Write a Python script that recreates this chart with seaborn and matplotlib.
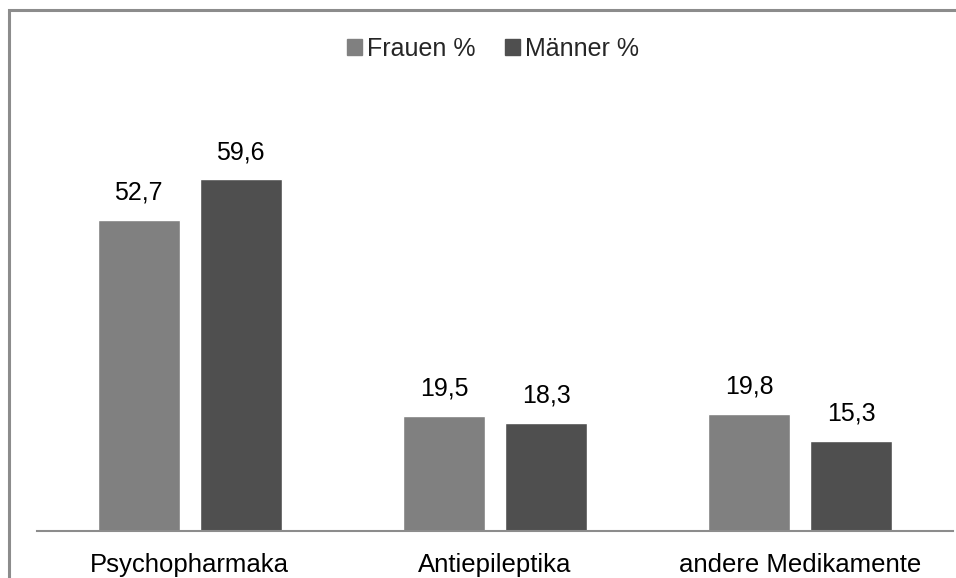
import matplotlib
matplotlib.use("Agg")
import matplotlib.pyplot as plt
import seaborn as sns
import pandas as pd
from matplotlib.patches import Rectangle

categories = ["Psychopharmaka", "Antiepileptika", "andere Medikamente"]
series = ["Frauen %", "Männer %"]
frauen = [52.7, 19.5, 19.8]
maenner = [59.6, 18.3, 15.3]
labels_frauen = ["52,7", "19,5", "19,8"]
labels_maenner = ["59,6", "18,3", "15,3"]

df = pd.DataFrame({
    "Kategorie": categories * 2,
    "Gruppe": [series[0]] * 3 + [series[1]] * 3,
    "Wert": frauen + maenner,
})

sns.set_theme(style="white")
plt.rcParams['font.family'] = ['Liberation Sans', 'DejaVu Sans']

W, H = 956, 578
fig = plt.figure(figsize=(W / 100, H / 100), dpi=100)
ax = fig.add_axes([37 / W, 1 - 531 / H, (953 - 37) / W, (531 - 118) / H])

sns.barplot(data=df, x="Kategorie", y="Wert", hue="Gruppe", order=categories,
            hue_order=series, palette=["#808080", "#4f4f4f"], width=0.669, gap=0.196,
            saturation=1, ax=ax, legend=False, errorbar=None)

ax.set_ylim(0, 70)
ax.set_xlim(-0.5, 2.5)
for s in ["top", "right", "left"]:
    ax.spines[s].set_visible(False)
ax.spines["bottom"].set_color("#8c8c8c")
ax.spines["bottom"].set_linewidth(1.5)
ax.set_yticks([])
ax.set_xlabel("")
ax.set_ylabel("")
ax.tick_params(axis="x", length=0, labelsize=18.5, pad=16, colors="black")

for cont, labs in zip(ax.containers, [labels_frauen, labels_maenner]):
    ax.bar_label(cont, labels=labs, padding=11, fontsize=18, color="black")

handles = [Rectangle((0, 0), 1, 1, color=c) for c in ["#808080", "#4f4f4f"]]
fig.legend(handles, series, loc="center", bbox_to_anchor=(493 / W, 1 - 49 / H),
           ncol=2, frameon=False, fontsize=18, handlelength=0.6, handleheight=0.6,
           handletextpad=0.2, columnspacing=1.2)

fig.patches.append(Rectangle((8.5 / W, -0.1), 1.2, 1 - 9.5 / H + 0.1, transform=fig.transFigure,
                             fill=False, edgecolor="#8c8c8c", linewidth=2.2))

fig.savefig("out.png", dpi=100)
